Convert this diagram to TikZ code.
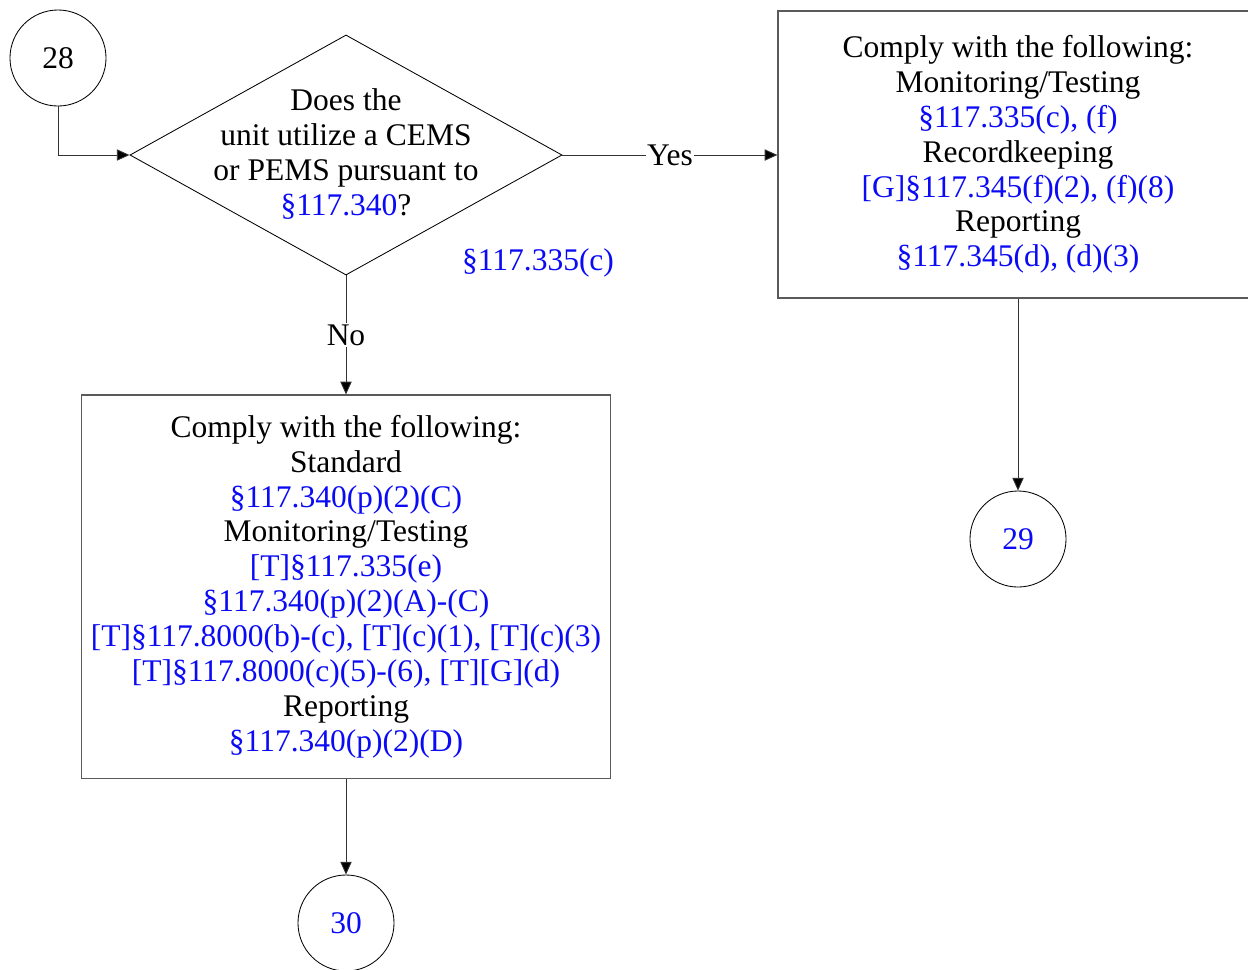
\documentclass[tikz,border=0pt]{standalone}
\usepackage{fontspec}
\setmainfont{Liberation Serif}
\usetikzlibrary{shapes.geometric,arrows.meta}
\definecolor{refblue}{RGB}{10,10,245}
\definecolor{boxgray}{RGB}{90,90,90}
\newcommand{\rb}[1]{\textcolor{refblue}{#1}}
\newcommand{\reffont}{\fontsize{22.4}{24.8}\selectfont}
\tikzset{
  conn/.style={draw=black!80, line width=0.6pt, -{Triangle[length=9pt,width=8pt,fill=black]}},
  circ/.style={circle, draw=black, line width=0.6pt, minimum size=2.4cm, inner sep=0pt, font=\reffont},
  rbox/.style={rectangle, draw=boxgray, line width=0.8pt, inner sep=0pt, align=center, font=\reffont},
  dia/.style={diamond, draw=black, line width=0.6pt, inner sep=0pt, minimum width=10.8cm, minimum height=6cm},
  txt/.style={align=center, font=\reffont, inner sep=1pt},
  lbl/.style={fill=white, inner sep=1pt, font=\reffont}
}
\begin{document}
\begin{tikzpicture}[x=0.025cm,y=-0.025cm]
\useasboundingbox (0,0) rectangle (1248,969);
\node[circ] (c28) at (58,58) {28};
\node[dia] (d) at (346,155) {};
\node[txt] (dt) at (346,154) {Does the\\unit utilize a CEMS\\or PEMS pursuant to\\\rb{§117.340}?};
\node[txt, text=refblue] (ref) at (538,263) {§117.335(c)};
\node[rbox, minimum width=12cm, minimum height=7.175cm] (rb) at (1018,154.5)
 {Comply with the following:\\Monitoring/Testing\\\rb{§117.335(c), (f)}\\Recordkeeping\\\rb{[G]§117.345(f)(2), (f)(8)}\\Reporting\\\rb{§117.345(d), (d)(3)}};
\node[rbox, minimum width=13.2cm, minimum height=9.575cm] (lb) at (346,586.5)
 {Comply with the following:\\Standard\\\rb{§117.340(p)(2)(C)}\\Monitoring/Testing\\\rb{[T]§117.335(e)}\\\rb{§117.340(p)(2)(A)-(C)}\\\rb{[T]§117.8000(b)-(c), [T](c)(1), [T](c)(3)}\\\rb{[T]§117.8000(c)(5)-(6), [T][G](d)}\\Reporting\\\rb{§117.340(p)(2)(D)}};
\node[circ, text=refblue] (c29) at (1018,539) {29};
\node[circ, text=refblue] (c30) at (346,923) {30};
\coordinate (bend) at (c28.south |- d.west);
\draw[conn] (c28.south) -- (bend) -- (d.west);
\draw[conn] (d.east) -- node[lbl] {Yes} (rb.west |- d.east);
\draw[conn] (d.south) -- node[lbl] {No} (lb.north);
\draw[conn] (rb.south) -- (c29.north);
\draw[conn] (lb.south) -- (c30.north);
\end{tikzpicture}
\end{document}
